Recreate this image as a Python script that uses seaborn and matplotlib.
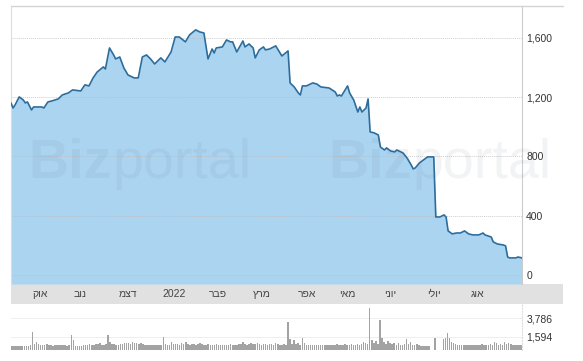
import numpy as np
import seaborn as sns
import matplotlib.pyplot as plt
from matplotlib.patches import Rectangle
from matplotlib.lines import Line2D

# price (trading-day index, value)
day = [0, 1, 2, 4, 6, 7, 8, 10, 11, 15, 16, 18, 20, 23, 25, 28, 30, 34, 36, 38,
       40, 42, 45, 46, 48, 50, 51, 53, 55, 57, 60, 62, 64, 66, 68, 70, 72, 73, 75, 78,
       80, 82, 85, 87, 90, 92, 94, 96, 98, 99, 100, 103, 105, 107, 108, 110, 113, 114, 116, 118,
       119, 121, 123, 124, 126, 129, 132, 135, 136, 138, 140, 141, 142, 144, 147, 149, 151, 155, 158, 159,
       160, 161, 164, 165, 167, 169, 170, 171, 173, 174, 175, 177, 179, 180, 182, 183, 185, 187, 188, 190,
       191, 193, 195, 196, 197, 199, 201, 203, 206, 207, 209, 211, 212, 213, 215, 217, 219, 221, 223, 225,
       228, 230, 231, 234, 235, 237, 240, 241, 242, 243, 246, 247, 249]
price = [1160, 1126, 1147, 1201, 1180, 1160, 1167, 1113, 1133, 1133, 1126, 1167, 1174, 1187, 1214, 1228, 1248, 1241, 1282, 1275,
         1329, 1369, 1403, 1389, 1531, 1484, 1457, 1470, 1396, 1349, 1329, 1329, 1470, 1484, 1457, 1423, 1450, 1464, 1437, 1504,
         1605, 1605, 1572, 1619, 1653, 1639, 1632, 1457, 1524, 1497, 1531, 1538, 1585, 1572, 1572, 1504, 1578, 1538, 1558, 1531,
         1464, 1518, 1538, 1518, 1524, 1545, 1477, 1511, 1295, 1268, 1228, 1214, 1275, 1275, 1295, 1288, 1268, 1261, 1234, 1207,
         1214, 1207, 1275, 1228, 1180, 1099, 1133, 1099, 1126, 1187, 965, 958, 944, 863, 843, 857, 836, 830, 843, 830,
         823, 789, 742, 715, 722, 755, 776, 796, 796, 391, 391, 405, 391, 297, 277, 283, 283, 297, 277, 270,
         270, 283, 270, 256, 223, 209, 202, 196, 121, 115, 115, 121, 115]

# daily volume, day 0..249
volume = [450, 480, 420, 500, 460, 430, 520, 480, 450, 600,
          2130, 700, 950, 750, 650, 600, 550, 700, 600, 550,
          500, 650, 600, 550, 600, 620, 580, 500, 550, 1775,
          1180, 520, 480, 450, 500, 550, 600, 650, 700, 650,
          600, 750, 700, 800, 650, 600, 700, 1775, 950, 750,
          700, 650, 600, 700, 750, 800, 850, 800, 750, 900,
          850, 800, 750, 850, 700, 650, 600, 550, 600, 650,
          600, 550, 650, 600, 1540, 700, 650, 600, 950, 700,
          750, 700, 650, 800, 750, 1000, 700, 650, 750, 700,
          650, 700, 800, 750, 650, 600, 700, 650, 600, 650,
          700, 650, 600, 650, 550, 600, 650, 700, 650, 600,
          650, 700, 750, 900, 700, 650, 750, 800, 700, 750,
          850, 700, 650, 700, 750, 650, 700, 750, 600, 850,
          700, 650, 600, 700, 650, 3300, 1300, 750, 1180, 700,
          850, 650, 1420, 800, 600, 650, 600, 550, 600, 650,
          600, 550, 600, 650, 600, 550, 600, 650, 600, 700,
          650, 600, 650, 700, 600, 650, 700, 650, 600, 700,
          650, 700, 950, 800, 700, 4970, 1180, 800, 1050, 700,
          3550, 1420, 950, 700, 1050, 800, 700, 850, 650, 850,
          650, 600, 700, 1300, 750, 950, 650, 600, 700, 550,
          500, 500, 500, 500, 500, 0, 0, 1400, 0, 0,
          0, 1300, 1400, 2000, 1400, 900, 800, 700, 650, 600,
          600, 650, 600, 550, 600, 650, 600, 550, 600, 650,
          700, 650, 600, 650, 700, 650, 950, 800, 650, 700,
          650, 950, 700, 850, 700, 650, 600, 650, 600, 650]
vol_day = np.arange(len(volume))

month_labels = ["אוק", "נוב", "דצמ", "2022", "פבר", "מרץ", "אפר", "מאי", "יוני", "יולי", "אוג"]
month_pos = [14, 33.7, 57, 79.5, 101, 122.4, 144.4, 164, 185, 206, 227.3]
price_ticks = [0, 400, 800, 1200, 1600]
vol_ticks = [1594, 3786]

sns.set_theme(style="white")
plt.rcParams["font.family"] = ["Liberation Sans", "DejaVu Sans"]

W, H = 583, 361
fig = plt.figure(figsize=(W / 100, H / 100), dpi=100)
ax = fig.add_axes([11 / W, 77 / H, 511 / W, 278 / H])
axv = fig.add_axes([11 / W, 11 / H, 511 / W, 46 / H])

# gray date band and top rule (behind the axes so the month labels show)
fig.patches.append(Rectangle((11 / W, 57 / H), 552 / W, 20 / H, transform=fig.transFigure,
                             facecolor="#e1e1e1", edgecolor="none", zorder=-1))
fig.lines.append(Line2D([11 / W, 563 / W], [1 - 6 / H, 1 - 6 / H], transform=fig.transFigure,
                        color="#d4d4d4", lw=1))

ymin, ymax = -61, 1814
ax.fill_between(day, price, ymin, color="#abd4f1", lw=0, zorder=1)
sns.lineplot(x=day, y=price, ax=ax, color="#2d6d9c", lw=1.2, zorder=3)
ax.set_xlim(0, 249)
ax.set_ylim(ymin, ymax)
for t in price_ticks:
    ax.axhline(t, color="#bbbbbb", lw=0.7, ls=(0, (1, 1)), alpha=0.7, zorder=2)

ax.yaxis.tick_right()
ax.set_yticks(price_ticks)
ax.set_yticklabels([f"{t:,}" for t in price_ticks])
ax.set_xticks(month_pos)
# matplotlib has no bidi support: reverse the Hebrew so it reads right to left
ax.set_xticklabels([m[::-1] if not m.isdigit() else m for m in month_labels])
ax.tick_params(axis="y", length=0, pad=3, labelsize=7.5, labelcolor="#333333")
ax.tick_params(axis="x", length=0, pad=3.5, labelsize=7.5, labelcolor="#444444")
ax.set_xlabel("")
ax.set_ylabel("")
for s in ["top", "bottom"]:
    ax.spines[s].set_visible(False)
ax.spines["left"].set_color("#dddddd")
ax.spines["right"].set_color("#cccccc")
ax.spines["left"].set_linewidth(0.8)
ax.spines["right"].set_linewidth(0.8)

# volume panel
sns.barplot(x=vol_day, y=volume, ax=axv, native_scale=True, color="#a3a3a3",
            width=0.75, errorbar=None, saturation=1, linewidth=0, edgecolor="none", zorder=2)
axv.set_xlim(-0.5, 249.5)
axv.set_ylim(0, 5443)
for t in vol_ticks:
    axv.axhline(t, color="#eeeeee", lw=0.7, zorder=1)
axv.yaxis.tick_right()
axv.set_yticks(vol_ticks)
axv.set_yticklabels([f"{t:,}" for t in vol_ticks])
axv.set_xticks([])
axv.tick_params(axis="y", length=0, pad=3, labelsize=7.5, labelcolor="#333333")
axv.set_xlabel("")
axv.set_ylabel("")
for s in ["top", "bottom", "left"]:
    axv.spines[s].set_visible(False)
axv.spines["right"].set_color("#dddddd")
axv.spines["right"].set_linestyle(":")
axv.spines["right"].set_linewidth(0.8)

# watermark
for x0 in [28, 328]:
    fig.text(x0 / W, 1 - 178 / H, "Biz", fontsize=40, fontweight="bold",
             color="#5a6a78", alpha=0.08)
    fig.text((x0 + 84) / W, 1 - 178 / H, "portal", fontsize=40, fontweight="light",
             color="#5a6a78", alpha=0.08)

fig.savefig("out.png", dpi=100)
